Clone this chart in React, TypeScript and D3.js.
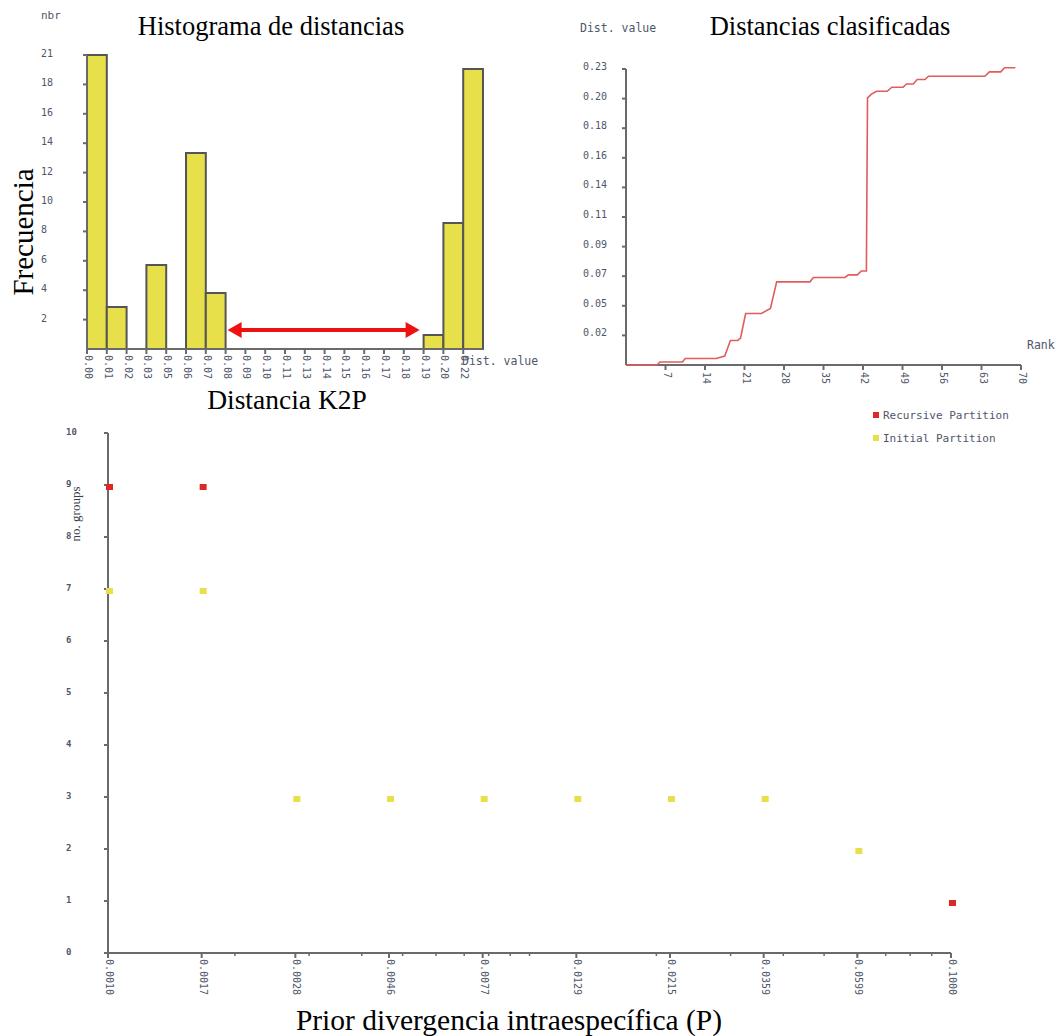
import React from "react";
import * as d3 from "d3";

// histogram of pairwise distances (20 bins)
const histLabels = ["0.00", "0.01", "0.02", "0.03", "0.05", "0.06", "0.07", "0.08", "0.09", "0.10",
  "0.11", "0.13", "0.14", "0.15", "0.16", "0.17", "0.18", "0.19", "0.20", "0.22"];
const histCounts = [21, 3, 0, 6, 0, 14, 4, 0, 0, 0, 0, 0, 0, 0, 0, 0, 0, 1, 9, 20];
const histYLabels = ["2", "4", "6", "8", "10", "12", "14", "16", "18", "21"];
const histMax = 21;
const distMax = 0.23;

// ranked distances
const rankPts = [0, 5.5, 6, 10, 10.5, 16, 17.5, 18.5, 19.8, 20.3, 21.2, 24, 25.6, 26.7, 32.6, 33.2, 38.8,
  39.4, 41, 41.7, 42.6, 42.8, 43.5, 44.4, 46.3, 47.1, 49.1, 49.7, 50.9, 51.6, 53, 53.6, 63.6, 64.4,
  66.4, 67.1, 69];
const distPts = [0, 0, 0.0023, 0.0023, 0.005, 0.005, 0.007, 0.019, 0.019, 0.021, 0.04, 0.04, 0.044,
  0.0646, 0.0646, 0.068, 0.068, 0.07, 0.07, 0.073, 0.073, 0.2075, 0.2105, 0.2127, 0.2127, 0.2158,
  0.2158, 0.2184, 0.2184, 0.2218, 0.2218, 0.2244, 0.2244, 0.2278, 0.2278, 0.231, 0.231];
const rankTicks = [7, 14, 21, 28, 35, 42, 49, 56, 63, 70];
const distTickLabels = ["0.02", "0.05", "0.07", "0.09", "0.11", "0.14", "0.16", "0.18", "0.20", "0.23"];

// number of groups vs prior divergence
const priorP = [0.001, 0.001668, 0.002783, 0.004642, 0.007743, 0.012915, 0.021544, 0.035938, 0.059948, 0.1];
const recursiveGroups = [9, 9, null, null, null, null, null, null, null, 1];
const initialGroups = [7, 7, 3, 3, 3, 3, 3, 3, 2, null];
const groupTicks = [0, 1, 2, 3, 4, 5, 6, 7, 8, 9, 10];

const mono = "'DejaVu Sans Mono', monospace";
const serif = "'Liberation Serif', 'Times New Roman', serif";
const labelColor = "#50566a";
const axisColor = "#6a6a6a";
const yellow = "#e8e04a";
const red = "#dd2828";
const arrowRed = "#ee1111";

function Histogram() {
  const x = d3.scaleLinear().domain([0, distMax]).range([87, 483]);
  const y = d3.scaleLinear().domain([0, histMax]).range([349, 55]);
  const bw = distMax / histCounts.length;
  // gap between the last intra bin and first inter bin
  const a0 = x(7 * bw) + 2;
  const a1 = x(17 * bw) - 4;
  return (
    <g>
      {histCounts.map((c, i) =>
        c > 0 ? (
          <rect key={i} x={x(i * bw)} y={y(c)} width={x((i + 1) * bw) - x(i * bw)} height={y(0) - y(c)}
            fill={yellow} stroke="#555" strokeWidth={2} />
        ) : null
      )}
      <line x1={x(0)} x2={x(distMax)} y1={y(0)} y2={y(0)} stroke={axisColor} strokeWidth={2} />
      <line x1={x(0)} x2={x(0)} y1={y(0)} y2={y(histMax)} stroke={axisColor} strokeWidth={2} />
      {histYLabels.map((l, i) => {
        const v = ((i + 1) * histMax) / 10;
        return (
          <g key={l}>
            <line x1={x(0) - 4} x2={x(0)} y1={y(v)} y2={y(v)} stroke={axisColor} strokeWidth={2} />
            <text x={41} y={y(v) - 1} dominantBaseline="middle" fontFamily={mono} fontSize={10} fill={labelColor}>{l}</text>
          </g>
        );
      })}
      {histLabels.map((l, i) => (
        <g key={l + i}>
          <line x1={x(i * bw)} x2={x(i * bw)} y1={y(0)} y2={y(0) + 5} stroke={axisColor} strokeWidth={2} />
          <text transform={`translate(${x(i * bw) + 1},${y(0) + 6}) rotate(90)`} dominantBaseline="middle"
            fontFamily={mono} fontSize={10} fill={labelColor}>{l}</text>
        </g>
      ))}
      <text x={41} y={19} fontFamily={mono} fontSize={11} fill={labelColor}>nbr</text>
      <text x={462} y={365} fontFamily={mono} fontSize={11.5} fill={labelColor}>Dist. value</text>
      {/* double arrow marking the barcode gap */}
      <line x1={a0 + 12} x2={a1 - 12} y1={330} y2={330} stroke={arrowRed} strokeWidth={4} />
      <path d={d3.line()([[a0, 330], [a0 + 14, 322], [a0 + 14, 338]]) + "Z"} fill={arrowRed} />
      <path d={d3.line()([[a1, 330], [a1 - 14, 322], [a1 - 14, 338]]) + "Z"} fill={arrowRed} />
    </g>
  );
}

function RankedLine() {
  const x = d3.scaleLinear().domain([0, 70]).range([626, 1021]);
  const y = d3.scaleLinear().domain([0, distMax]).range([365, 69]);
  const line = d3.line<number>().x((d, i) => x(rankPts[i])).y((d) => y(d));
  return (
    <g>
      <line x1={x(0)} x2={x(70)} y1={y(0)} y2={y(0)} stroke={axisColor} strokeWidth={2} />
      <line x1={x(0)} x2={x(0)} y1={y(0)} y2={y(distMax)} stroke={axisColor} strokeWidth={2} />
      {distTickLabels.map((l, i) => {
        const v = ((i + 1) * distMax) / 10;
        return (
          <g key={l}>
            <line x1={x(0) - 4} x2={x(0)} y1={y(v)} y2={y(v)} stroke={axisColor} strokeWidth={2} />
            <text x={583} y={y(v) - 2} dominantBaseline="middle" fontFamily={mono} fontSize={10} fill={labelColor}>{l}</text>
          </g>
        );
      })}
      {rankTicks.map((t) => (
        <g key={t}>
          <line x1={x(t)} x2={x(t)} y1={y(0)} y2={y(0) + 5} stroke={axisColor} strokeWidth={2} />
          <text transform={`translate(${x(t) + 1},${y(0) + 7}) rotate(90)`} dominantBaseline="middle"
            fontFamily={mono} fontSize={10} fill={labelColor}>{t}</text>
        </g>
      ))}
      <path d={line(distPts) || ""} fill="none" stroke="#e25c5c" strokeWidth={1.6} />
      <text x={580} y={32} fontFamily={mono} fontSize={11.5} fill={labelColor}>Dist. value</text>
      <text x={1027} y={349} fontFamily={mono} fontSize={11.5} fill={labelColor}>Rank</text>
    </g>
  );
}

function GroupsScatter() {
  const x = d3.scaleLog().domain([0.001, 0.1]).range([108, 951]);
  const y = d3.scaleLinear().domain([0, 10]).range([953, 433]);
  const minor = x.ticks();
  return (
    <g>
      <line x1={x(0.001)} x2={x(0.1)} y1={y(0)} y2={y(0)} stroke={axisColor} strokeWidth={2} />
      <line x1={x(0.001)} x2={x(0.001)} y1={y(0)} y2={y(10)} stroke={axisColor} strokeWidth={2} />
      {groupTicks.map((t) => (
        <g key={t}>
          <line x1={x(0.001) - 4} x2={x(0.001)} y1={y(t)} y2={y(t)} stroke={axisColor} strokeWidth={2} />
          <text x={66} y={y(t) - 1} dominantBaseline="middle" fontFamily={mono} fontSize={9} fontWeight="bold" fill={labelColor}>{t}</text>
        </g>
      ))}
      {minor.map((t, i) => (
        <line key={i} x1={x(t)} x2={x(t)} y1={y(0)} y2={y(0) + 3} stroke={axisColor} strokeWidth={1.5} />
      ))}
      {priorP.map((p) => (
        <g key={p}>
          <line x1={x(p)} x2={x(p)} y1={y(0)} y2={y(0) + 5} stroke={axisColor} strokeWidth={2} />
          <text transform={`translate(${x(p) + 1},${y(0) + 6}) rotate(90)`} dominantBaseline="middle"
            fontFamily={mono} fontSize={10} fill={labelColor}>{p.toFixed(4)}</text>
        </g>
      ))}
      {initialGroups.map((g, i) =>
        g == null ? null : <rect key={"i" + i} x={x(priorP[i]) - 2} y={y(g) - 1} width={7} height={6} fill={yellow} />
      )}
      {recursiveGroups.map((g, i) =>
        g == null ? null : <rect key={"r" + i} x={x(priorP[i]) - 2} y={y(g) - 1} width={7} height={6} fill={red} />
      )}
      <text transform={`translate(77,514) rotate(-90)`} textAnchor="middle" dominantBaseline="middle"
        fontFamily={serif} fontSize={13} fill="#3a3f4e">no. groups</text>
      <rect x={873} y={412} width={6} height={6} fill={red} />
      <text x={883} y={416} dominantBaseline="middle" fontFamily={mono} fontSize={11} fill={labelColor}>Recursive Partition</text>
      <rect x={873} y={435} width={6} height={6} fill={yellow} />
      <text x={883} y={439} dominantBaseline="middle" fontFamily={mono} fontSize={11} fill={labelColor}>Initial Partition</text>
    </g>
  );
}

export default function App() {
  return (
    <>
      <style>{`body{margin:0}`}</style>
      <svg width={1061} height={1036} style={{ display: "block", background: "#fff" }}>
        <Histogram />
        <RankedLine />
        <GroupsScatter />
        <text x={271} y={35} textAnchor="middle" fontFamily={serif} fontSize={26.5}>Histograma de distancias</text>
        <text x={830} y={35} textAnchor="middle" fontFamily={serif} fontSize={26.5}>Distancias clasificadas</text>
        <text transform="translate(33,232) rotate(-90)" textAnchor="middle" fontFamily={serif} fontSize={29}>Frecuencia</text>
        <text x={287} y={409} textAnchor="middle" fontFamily={serif} fontSize={27.5}>Distancia K2P</text>
        <text x={509} y={1030} textAnchor="middle" fontFamily={serif} fontSize={29.5}>Prior divergencia intraespecífica (P)</text>
      </svg>
    </>
  );
}
